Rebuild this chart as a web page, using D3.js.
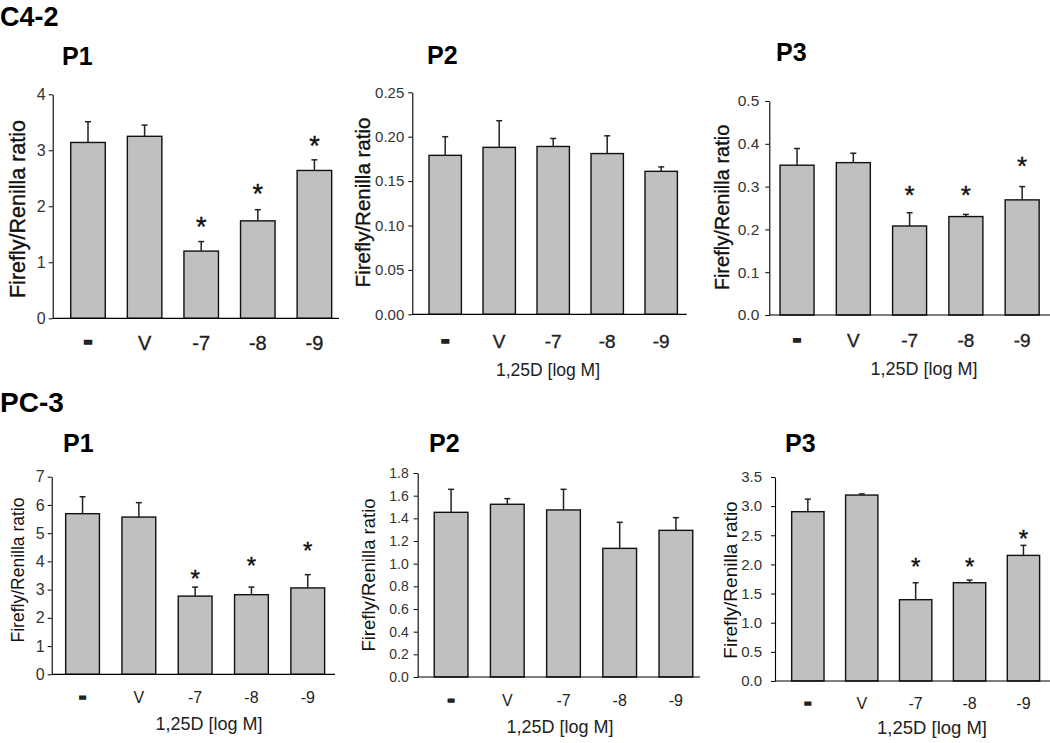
<!DOCTYPE html>
<html><head><meta charset="utf-8">
<script src="https://cdn.jsdelivr.net/npm/d3@7"></script>
<style>
body{margin:0;background:#fff}
svg{display:block}
text{font-family:"Liberation Sans",Arial,Helvetica,sans-serif}
</style>
</head><body>
<svg id="c" width="1050" height="743"></svg>
<script>
// ---------- DATA ----------
const categories = ["-", "V", "-7", "-8", "-9"];
const sectionTitles = ["C4-2", "PC-3"];
const panelTitles = ["P1", "P2", "P3"];
const yAxisTitle = "Firefly/Renilla ratio";
const xAxisTitle = "1,25D [log M]";

// C4-2
const c42P1Mean = [3.14, 3.25, 1.20, 1.74, 2.64];
const c42P1Se   = [0.37, 0.20, 0.17, 0.20, 0.19];
const c42P1Star = [null, null, 1.75, 2.34, 3.20];
const c42P1Ticks = [0, 1, 2, 3, 4];

const c42P2Mean = [0.179, 0.188, 0.189, 0.181, 0.161];
const c42P2Se   = [0.021, 0.030, 0.009, 0.020, 0.005];
const c42P2Star = [null, null, null, null, null];
const c42P2Ticks = [0, 0.05, 0.10, 0.15, 0.20, 0.25];

const c42P3Mean = [0.350, 0.356, 0.208, 0.230, 0.269];
const c42P3Se   = [0.039, 0.022, 0.031, 0.005, 0.031];
const c42P3Star = [null, null, 0.294, 0.294, 0.362];
const c42P3Ticks = [0, 0.1, 0.2, 0.3, 0.4, 0.5];

// PC-3
const pc3P1Mean = [5.69, 5.57, 2.77, 2.82, 3.06];
const pc3P1Se   = [0.60, 0.51, 0.32, 0.27, 0.47];
const pc3P1Star = [null, null, 3.57, 4.06, 4.57];
const pc3P1Ticks = [0, 1, 2, 3, 4, 5, 6, 7];

const pc3P2Mean = [1.453, 1.524, 1.474, 1.135, 1.294];
const pc3P2Se   = [0.203, 0.050, 0.182, 0.230, 0.112];
const pc3P2Star = [null, null, null, null, null];
const pc3P2Ticks = [0, 0.2, 0.4, 0.6, 0.8, 1.0, 1.2, 1.4, 1.6, 1.8];

const pc3P3Mean = [2.905, 3.190, 1.395, 1.686, 2.155];
const pc3P3Se   = [0.215, 0.020, 0.291, 0.046, 0.172];
const pc3P3Star = [null, null, 2.05, 2.05, 2.54];
const pc3P3Ticks = [0, 0.5, 1.0, 1.5, 2.0, 2.5, 3.0, 3.5];

// ---------- LAYOUT ----------
const panels = [
  {mean:c42P1Mean, se:c42P1Se, star:c42P1Star, ticks:c42P1Ticks, fmt:"d",
   axisX:52.7, y0:318.3, yTop:94.3, band:[59.7,342.7], pi:0.39, axisRight:339,
   ylab:{x:10, cy:209, fs:21.5}, ytickFs:16, tickPad:3, xtickFs:20, xtickY:350,
   xtitle:null, title:{i:0, x:62, y:65, fs:25}, starFs:27, heavy:true},
  {mean:c42P2Mean, se:c42P2Se, star:c42P2Star, ticks:c42P2Ticks, fmt:".2f",
   axisX:412.3, y0:314.3, yTop:92.3, band:[418.2,688.2], pi:0.40, axisRight:686.7,
   ylab:{x:355, cy:202.5, fs:20.5}, ytickFs:15, tickPad:4, xtickFs:19, xtickY:348,
   xtitle:{x:548, y:376, fs:17.5}, title:{i:1, x:427, y:64, fs:25}, starFs:26, heavy:true},
  {mean:c42P3Mean, se:c42P3Se, star:c42P3Star, ticks:c42P3Ticks, fmt:".1f",
   axisX:769.3, y0:315, yTop:101, band:[768.9,1050.3], pi:0.396, axisRight:1050,
   ylab:{x:715, cy:207.5, fs:20}, ytickFs:15.5, tickPad:6, xtickFs:19, xtickY:347,
   xtitle:{x:924, y:375, fs:18}, title:{i:2, x:776, y:61, fs:25}, starFs:26, heavy:true},
  {mean:pc3P1Mean, se:pc3P1Se, star:pc3P1Star, ticks:pc3P1Ticks, fmt:"d",
   axisX:51.7, y0:674.3, yTop:476.7, band:[54.4,335.9], pi:0.40, axisRight:335,
   ylab:{x:11.7, cy:570, fs:17.5}, ytickFs:16, tickPad:3, xtickFs:16, xtickY:703,
   xtitle:{x:209, y:730, fs:18}, title:{i:0, x:63, y:452, fs:25}, starFs:24, heavy:false},
  {mean:pc3P2Mean, se:pc3P2Se, star:pc3P2Star, ticks:pc3P2Ticks, fmt:".1f",
   axisX:417.7, y0:677, yTop:473, band:[423,704], pi:0.40, axisRight:700,
   ylab:{x:361.7, cy:575, fs:18.5}, ytickFs:14, tickPad:5, xtickFs:16, xtickY:706,
   xtitle:{x:560, y:733, fs:18}, title:{i:1, x:429, y:452, fs:25}, starFs:24, heavy:false},
  {mean:pc3P3Mean, se:pc3P3Se, star:pc3P3Star, ticks:pc3P3Ticks, fmt:".1f",
   axisX:775, y0:681, yTop:477, band:[780.9,1050.4], pi:0.40, axisRight:1050,
   ylab:{x:723, cy:580, fs:19}, ytickFs:15, tickPad:9, xtickFs:16, xtickY:709,
   xtitle:{x:932, y:734, fs:18.5}, title:{i:2, x:785, y:452, fs:25}, starFs:24, heavy:false}
];

const svg = d3.select("#c");

// section titles
svg.append("text").attr("x", 0).attr("y", 26).attr("font-size", 27).attr("font-weight", "bold")
  .attr("fill", "#000").text(sectionTitles[0]);
svg.append("text").attr("x", 0).attr("y", 412).attr("font-size", 28).attr("font-weight", "bold")
  .attr("fill", "#000").text(sectionTitles[1]);

panels.forEach(p => {
  const g = svg.append("g");
  const ymax = p.ticks[p.ticks.length - 1];
  const y = d3.scaleLinear().domain([0, ymax]).range([p.y0, p.yTop]);
  const x = d3.scaleBand().domain(categories).range(p.band)
    .paddingInner(p.pi).paddingOuter(p.pi / 2);
  const rows = categories.map((c, i) => ({c, m: p.mean[i], s: p.se[i], st: p.star[i]}));
  const heavyStroke = p.heavy ? 0.35 : 0;

  // title
  g.append("text").attr("x", p.title.x).attr("y", p.title.y).attr("font-size", p.title.fs)
    .attr("font-weight", "bold").attr("fill", "#000").text(panelTitles[p.title.i]);

  // bars
  g.selectAll("rect.bar").data(rows).join("rect").attr("class", "bar")
    .attr("x", d => x(d.c)).attr("width", x.bandwidth())
    .attr("y", d => y(d.m)).attr("height", d => y(0) - y(d.m))
    .attr("fill", "#c0c0c0").attr("stroke", "#111").attr("stroke-width", 1.4);

  // error bars
  const cx = d => x(d.c) + x.bandwidth() / 2;
  g.selectAll("line.err").data(rows).join("line").attr("class", "err")
    .attr("x1", cx).attr("x2", cx)
    .attr("y1", d => y(d.m)).attr("y2", d => y(d.m + d.s))
    .attr("stroke", "#222").attr("stroke-width", 1.5);
  g.selectAll("line.cap").data(rows).join("line").attr("class", "cap")
    .attr("x1", d => cx(d) - 3).attr("x2", d => cx(d) + 3)
    .attr("y1", d => y(d.m + d.s)).attr("y2", d => y(d.m + d.s))
    .attr("stroke", "#222").attr("stroke-width", 1.5);

  // stars
  g.selectAll("text.star").data(rows.filter(d => d.st != null)).join("text").attr("class", "star")
    .attr("x", cx).attr("y", d => y(d.st) + 0.58 * p.starFs)
    .attr("text-anchor", "middle").attr("font-size", p.starFs).attr("fill", "#111")
    .attr("stroke", "#111").attr("stroke-width", 0.4).text("*");

  // x baseline
  g.append("line").attr("x1", p.axisX).attr("x2", p.axisRight)
    .attr("y1", y(0)).attr("y2", y(0)).attr("stroke", "#000").attr("stroke-width", 1.2);

  // y axis
  const ya = g.append("g").attr("transform", `translate(${p.axisX},0)`)
    .call(d3.axisLeft(y).tickValues(p.ticks).tickFormat(d3.format(p.fmt))
      .tickSize(4).tickSizeOuter(0).tickPadding(p.tickPad));
  ya.select(".domain").attr("stroke", "#000").attr("stroke-width", 1.1);
  ya.selectAll(".tick line").attr("stroke", "#000");
  ya.selectAll(".tick text").attr("fill", "#333").attr("font-size", p.ytickFs)
    .attr("font-family", "Liberation Sans, Arial, sans-serif");

  // x tick labels (first "-" drawn as a heavy dash like the reference)
  g.selectAll("text.xt").data(rows).join("text").attr("class", "xt")
    .attr("x", cx).attr("y", p.xtickY).attr("text-anchor", "middle")
    .attr("font-size", (d, i) => i === 0 ? p.xtickFs * 1.35 : p.xtickFs)
    .attr("fill", "#222")
    .attr("stroke", (d, i) => i === 0 ? "#222" : (p.heavy ? "#222" : "none"))
    .attr("stroke-width", (d, i) => i === 0 ? 1.6 : heavyStroke)
    .attr("font-weight", (d, i) => i === 0 ? "bold" : "normal")
    .text(d => d.c);

  // y axis title
  g.append("text")
    .attr("transform", `translate(${p.ylab.x + 0.72 * p.ylab.fs},${p.ylab.cy}) rotate(-90)`)
    .attr("text-anchor", "middle").attr("font-size", p.ylab.fs).attr("fill", "#111")
    .attr("stroke", p.heavy ? "#111" : "none").attr("stroke-width", heavyStroke)
    .text(yAxisTitle);

  // x axis title
  if (p.xtitle) {
    g.append("text").attr("x", p.xtitle.x).attr("y", p.xtitle.y).attr("text-anchor", "middle")
      .attr("font-size", p.xtitle.fs).attr("fill", "#222").text(xAxisTitle);
  }
});
</script>
</body></html>
